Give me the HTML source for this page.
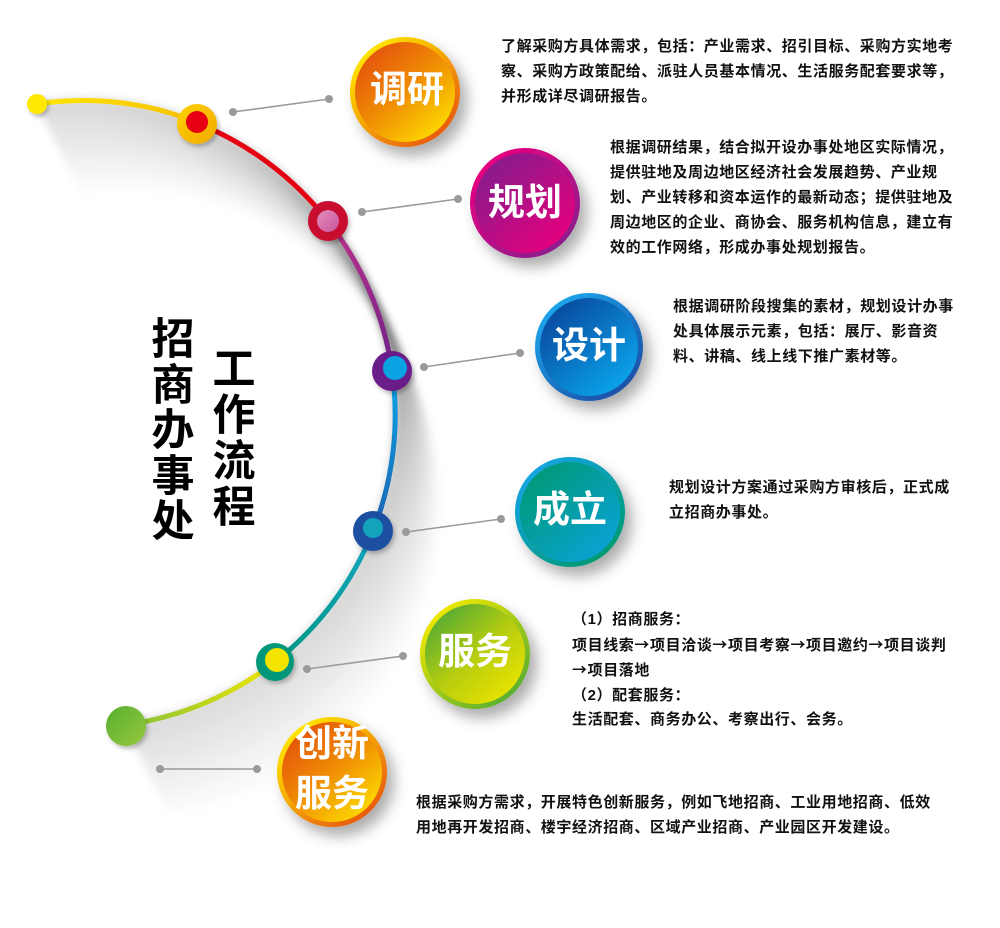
<!DOCTYPE html>
<html><head><meta charset="utf-8">
<style>
html,body{margin:0;padding:0;background:#fff;}
#wrap{position:relative;width:1000px;height:928px;overflow:hidden;background:#fff;}
svg{position:absolute;left:0;top:0;}
.t{position:absolute;font-family:"Liberation Sans","Noto Sans CJK SC",sans-serif;font-weight:700;color:#111;font-size:15px;line-height:25px;letter-spacing:0.6px;white-space:nowrap;}
.a{font-family:"Noto Sans CJK SC",sans-serif;}
.b{position:absolute;width:120px;text-align:center;color:#fff;font-family:"Liberation Sans","Noto Sans CJK SC",sans-serif;font-weight:700;font-size:37px;line-height:40px;white-space:nowrap;}
.ti{position:absolute;width:50px;text-align:center;color:#000;font-family:"Liberation Sans","Noto Sans CJK SC",sans-serif;font-weight:700;font-size:43px;}
</style></head>
<body><div id="wrap">
<svg width="1000" height="928" viewBox="0 0 1000 928">
<defs>
<filter id="blur" x="-20%" y="-20%" width="140%" height="140%"><feGaussianBlur stdDeviation="4"/></filter>
<filter id="ds" x="-40%" y="-40%" width="190%" height="190%"><feDropShadow dx="7" dy="9" stdDeviation="7" flood-color="#000" flood-opacity="0.32"/></filter>
<filter id="ns" x="-50%" y="-50%" width="200%" height="200%"><feDropShadow dx="2" dy="3" stdDeviation="2" flood-color="#000" flood-opacity="0.25"/></filter>
<path id="arc" d="M37,104 C90,96 150,102 197,123 A315,315 0 0 1 327,220 A315,315 0 0 1 392,370 A315,315 0 0 1 373,531 A315,315 0 0 1 275,662 A315,315 0 0 1 125,725" fill="none"/>
<linearGradient id="g1" gradientUnits="userSpaceOnUse" x1="37" y1="104" x2="197" y2="123"><stop offset="0" stop-color="#ffe600"/><stop offset="1" stop-color="#f6bf00"/></linearGradient>
<linearGradient id="g3" gradientUnits="userSpaceOnUse" x1="327" y1="220" x2="392" y2="370"><stop offset="0" stop-color="#c0348e"/><stop offset="1" stop-color="#6e1f88"/></linearGradient>
<linearGradient id="g4" gradientUnits="userSpaceOnUse" x1="392" y1="370" x2="373" y2="531"><stop offset="0" stop-color="#0aa6e6"/><stop offset="1" stop-color="#1c62b0"/></linearGradient>
<linearGradient id="g5" gradientUnits="userSpaceOnUse" x1="373" y1="531" x2="275" y2="662"><stop offset="0" stop-color="#13a5c2"/><stop offset="1" stop-color="#009882"/></linearGradient>
<linearGradient id="g6" gradientUnits="userSpaceOnUse" x1="275" y1="662" x2="125" y2="725"><stop offset="0" stop-color="#f2e600"/><stop offset="1" stop-color="#86c23a"/></linearGradient>
<linearGradient id="gend" x1="0" y1="0" x2="1" y2="1"><stop offset="0" stop-color="#58b032"/><stop offset="1" stop-color="#94c83a"/></linearGradient>
<linearGradient id="gn1" x1="0" y1="0" x2="1" y2="1"><stop offset="0" stop-color="#ffd200"/><stop offset="1" stop-color="#f2a800"/></linearGradient>
<linearGradient id="gn2" x1="0" y1="0" x2="1" y2="1"><stop offset="0" stop-color="#e48cbc"/><stop offset="1" stop-color="#c8569c"/></linearGradient>
<!-- bubble gradients -->
<linearGradient id="oi" x1="0.15" y1="0.1" x2="0.85" y2="0.9"><stop offset="0" stop-color="#e4540c"/><stop offset="0.5" stop-color="#f08e04"/><stop offset="1" stop-color="#fcd800"/></linearGradient>
<linearGradient id="or" x1="0.15" y1="0.1" x2="0.85" y2="0.9"><stop offset="0" stop-color="#ffe800"/><stop offset="1" stop-color="#e8580c"/></linearGradient>
<linearGradient id="pi" x1="0.15" y1="0.1" x2="0.85" y2="0.9"><stop offset="0" stop-color="#861c8c"/><stop offset="1" stop-color="#e6007e"/></linearGradient>
<linearGradient id="pr" x1="0.15" y1="0.1" x2="0.85" y2="0.9"><stop offset="0" stop-color="#e8007f"/><stop offset="1" stop-color="#8a1e8c"/></linearGradient>
<linearGradient id="bi" x1="0.15" y1="0.1" x2="0.85" y2="0.9"><stop offset="0" stop-color="#0a4aa0"/><stop offset="1" stop-color="#0aa4ea"/></linearGradient>
<linearGradient id="br" x1="0.15" y1="0.1" x2="0.85" y2="0.9"><stop offset="0" stop-color="#1aa6ec"/><stop offset="1" stop-color="#1a4ea6"/></linearGradient>
<linearGradient id="ti" x1="0.15" y1="0.1" x2="0.85" y2="0.9"><stop offset="0" stop-color="#009a78"/><stop offset="1" stop-color="#0aa2d4"/></linearGradient>
<linearGradient id="tr" x1="0.15" y1="0.1" x2="0.85" y2="0.9"><stop offset="0" stop-color="#14a4e4"/><stop offset="1" stop-color="#009a70"/></linearGradient>
<linearGradient id="gi" x1="0.15" y1="0.1" x2="0.85" y2="0.9"><stop offset="0" stop-color="#58ac32"/><stop offset="0.5" stop-color="#b4cc10"/><stop offset="1" stop-color="#e8e200"/></linearGradient>
<linearGradient id="gr" x1="0.15" y1="0.1" x2="0.85" y2="0.9"><stop offset="0" stop-color="#f2e800"/><stop offset="1" stop-color="#58ae32"/></linearGradient>
</defs>

<!-- shadow of arc -->
<g filter="url(#blur)" stroke="#000" stroke-width="7" fill="none">
<use href="#arc" transform="translate(0,0)" stroke-opacity="0.10"/>
<use href="#arc" transform="translate(2.2,4.5)" stroke-opacity="0.10"/>
<use href="#arc" transform="translate(4.4,9)" stroke-opacity="0.095"/>
<use href="#arc" transform="translate(6.6,13.5)" stroke-opacity="0.09"/>
<use href="#arc" transform="translate(8.8,18)" stroke-opacity="0.085"/>
<use href="#arc" transform="translate(11,22.5)" stroke-opacity="0.08"/>
<use href="#arc" transform="translate(13.2,27)" stroke-opacity="0.075"/>
<use href="#arc" transform="translate(15.4,31.5)" stroke-opacity="0.07"/>
<use href="#arc" transform="translate(17.6,36)" stroke-opacity="0.065"/>
<use href="#arc" transform="translate(19.8,40.5)" stroke-opacity="0.06"/>
<use href="#arc" transform="translate(22,45)" stroke-opacity="0.055"/>
<use href="#arc" transform="translate(24.2,49.5)" stroke-opacity="0.05"/>
<use href="#arc" transform="translate(26.4,54)" stroke-opacity="0.045"/>
<use href="#arc" transform="translate(28.6,58.5)" stroke-opacity="0.04"/>
<use href="#arc" transform="translate(30.8,63)" stroke-opacity="0.035"/>
<use href="#arc" transform="translate(33,67.5)" stroke-opacity="0.03"/>
<use href="#arc" transform="translate(35.2,72)" stroke-opacity="0.025"/>
<use href="#arc" transform="translate(37.4,76.5)" stroke-opacity="0.02"/>
<use href="#arc" transform="translate(39.6,81)" stroke-opacity="0.015"/>
<use href="#arc" transform="translate(41.8,85.5)" stroke-opacity="0.01"/>
<use href="#arc" transform="translate(44,90)" stroke-opacity="0.005"/>
</g>

<!-- arc segments -->
<g fill="none" stroke-width="5" stroke-linecap="round">
<path d="M37,104 C90,96 150,102 197,123" stroke="url(#g1)"/>
<path d="M197,123 A315,315 0 0 1 327,220" stroke="#e50012"/>
<path d="M327,220 A315,315 0 0 1 392,370" stroke="url(#g3)"/>
<path d="M392,370 A315,315 0 0 1 373,531" stroke="url(#g4)"/>
<path d="M373,531 A315,315 0 0 1 275,662" stroke="url(#g5)"/>
<path d="M275,662 A315,315 0 0 1 125,725" stroke="url(#g6)"/>
</g>

<!-- nodes -->
<g filter="url(#ns)">
<circle cx="37" cy="104" r="10" fill="#ffe800"/>
<circle cx="197" cy="124" r="20" fill="url(#gn1)"/>
<circle cx="328" cy="221" r="20" fill="#c8102e"/>
<circle cx="392" cy="371" r="20" fill="#6b1f88"/>
<circle cx="373" cy="531" r="20" fill="#1c4fa0"/>
<circle cx="275" cy="662" r="19" fill="#00977a"/>
<circle cx="126" cy="726" r="20" fill="url(#gend)"/>
</g>
<circle cx="197" cy="122" r="11" fill="#e60012"/>
<circle cx="328" cy="221" r="11" fill="url(#gn2)"/>
<circle cx="395" cy="368" r="12" fill="#0ba2e4"/>
<circle cx="373" cy="528" r="10" fill="#14a3bd"/>
<circle cx="277" cy="660" r="12" fill="#f3e500"/>

<!-- connectors -->
<g stroke="#9a9a9a" stroke-width="1.6" fill="#9a9a9a">
<line x1="233" y1="112" x2="329" y2="99"/><circle cx="233" cy="112" r="4" stroke="none"/><circle cx="329" cy="99" r="4" stroke="none"/>
<line x1="362" y1="212" x2="458" y2="199"/><circle cx="362" cy="212" r="4" stroke="none"/><circle cx="458" cy="199" r="4" stroke="none"/>
<line x1="424" y1="367" x2="520" y2="353"/><circle cx="424" cy="367" r="4" stroke="none"/><circle cx="520" cy="353" r="4" stroke="none"/>
<line x1="406" y1="532" x2="501" y2="519"/><circle cx="406" cy="532" r="4" stroke="none"/><circle cx="501" cy="519" r="4" stroke="none"/>
<line x1="307" y1="669" x2="403" y2="656"/><circle cx="307" cy="669" r="4" stroke="none"/><circle cx="403" cy="656" r="4" stroke="none"/>
<line x1="160" y1="769" x2="257" y2="769"/><circle cx="160" cy="769" r="4" stroke="none"/><circle cx="257" cy="769" r="4" stroke="none"/>
</g>

<!-- bubbles -->
<g filter="url(#ds)"><circle cx="405" cy="92" r="55" fill="url(#or)"/></g>
<circle cx="405" cy="92" r="50" fill="url(#oi)"/>
<g filter="url(#ds)"><circle cx="525" cy="203" r="55" fill="url(#pr)"/></g>
<circle cx="525" cy="203" r="50" fill="url(#pi)"/>
<g filter="url(#ds)"><circle cx="589" cy="347" r="54" fill="url(#br)"/></g>
<circle cx="589" cy="347" r="49" fill="url(#bi)"/>
<g filter="url(#ds)"><circle cx="570" cy="512" r="55" fill="url(#tr)"/></g>
<circle cx="570" cy="512" r="50" fill="url(#ti)"/>
<g filter="url(#ds)"><circle cx="475" cy="654" r="55" fill="url(#gr)"/></g>
<circle cx="475" cy="654" r="50" fill="url(#gi)"/>
<g filter="url(#ds)"><circle cx="332" cy="772" r="55" fill="url(#or)"/></g>
<circle cx="332" cy="772" r="50" fill="url(#oi)"/>
</svg>

<!-- bubble labels -->
<div class="b" style="left:347px;top:70px;">调研</div>
<div class="b" style="left:465px;top:183px;">规划</div>
<div class="b" style="left:529px;top:326px;">设计</div>
<div class="b" style="left:510px;top:490px;">成立</div>
<div class="b" style="left:415px;top:632px;">服务</div>
<div class="b" style="left:272px;top:719px;line-height:50px;">创新<br>服务</div>

<!-- title -->
<div class="ti" style="left:148px;top:318px;line-height:45.5px;">招<br>商<br>办<br>事<br>处</div>
<div class="ti" style="left:209px;top:347px;line-height:46px;">工<br>作<br>流<br>程</div>

<!-- descriptions -->
<div class="t" style="left:501px;top:34px;">了解采购方具体需求，包括：产业需求、招引目标、采购方实地考<br>察、采购方政策配给、派驻人员基本情况、生活服务配套要求等，<br>并形成详尽调研报告。</div>
<div class="t" style="left:610px;top:135px;">根据调研结果，结合拟开设办事处地区实际情况，<br>提供驻地及周边地区经济社会发展趋势、产业规<br>划、产业转移和资本运作的最新动态；提供驻地及<br>周边地区的企业、商协会、服务机构信息，建立有<br>效的工作网络，形成办事处规划报告。</div>
<div class="t" style="left:673px;top:294px;">根据调研阶段搜集的素材，规划设计办事<br>处具体展示元素，包括：展厅、影音资<br>料、讲稿、线上线下推广素材等。</div>
<div class="t" style="left:669px;top:475px;">规划设计方案通过采购方审核后，正式成<br>立招商办事处。</div>
<div class="t" style="left:572px;top:608px;line-height:24.5px;">（1）招商服务：<br>项目线索<span class="a">→</span>项目洽谈<span class="a">→</span>项目考察<span class="a">→</span>项目邀约<span class="a">→</span>项目谈判<br><span class="a">→</span>项目落地<br>（2）配套服务：<br>生活配套、商务办公、考察出行、会务。</div>
<div class="t" style="left:416px;top:790px;">根据采购方需求，开展特色创新服务，例如飞地招商、工业用地招商、低效<br>用地再开发招商、楼宇经济招商、区域产业招商、产业园区开发建设。</div>
</div></body></html>
